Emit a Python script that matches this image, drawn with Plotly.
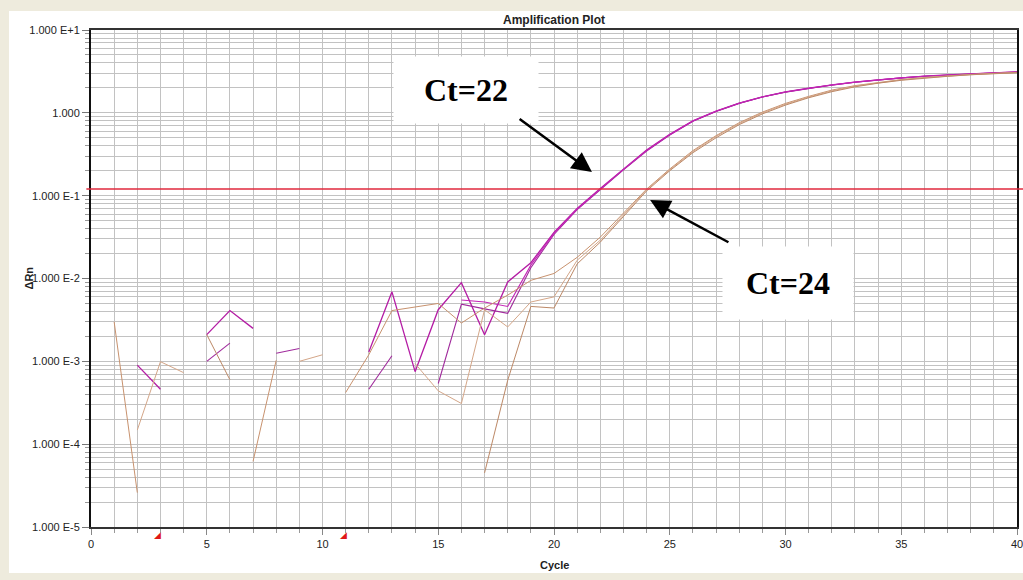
import plotly.graph_objects as go

cycles = list(range(1, 41))
N = None

# Magenta wells (Ct = 22)
mag_a = [N, 9.0e-4, 4.6e-4, N, 2.1e-3, 4.1e-3, 2.5e-3, N, N, N,
         N, 1.3e-3, 6.9e-3, 7.5e-4, 4.2e-3, 8.9e-3, 2.1e-3, 9.1e-3, 0.0155, 0.036,
         0.070, 0.122, 0.21, 0.355, 0.55, 0.80, 1.05, 1.31, 1.56, 1.79,
         1.99, 2.18, 2.35, 2.50, 2.65, 2.77, 2.87, 2.96, 3.04, 3.11]
mag_b = [N, N, N, N, 1.0e-3, 1.66e-3, N, 1.25e-3, 1.43e-3, N,
         N, 4.6e-4, 1.17e-3, N, 5.4e-4, 4.9e-3, 4.3e-3, 3.8e-3, 0.0135, 0.034,
         0.068, 0.118, 0.205, 0.345, 0.54, 0.79, 1.04, 1.30, 1.55, 1.78,
         1.98, 2.17, 2.34, 2.49, 2.64, 2.76, 2.86, 2.95, 3.03, 3.10]
mag_c = [N, N, N, N, N, N, N, N, N, N,
         N, N, N, N, N, 5.5e-3, 5.2e-3, 4.6e-3, 0.0145, 0.035,
         0.069, 0.120, 0.208, 0.35, 0.545, 0.795, 1.045, 1.305, 1.555, 1.785,
         1.985, 2.175, 2.345, 2.495, 2.645, 2.765, 2.865, 2.955, 3.035, 3.105]

# Tan wells (Ct = 24)
tan_a = [3.0e-3, 2.6e-5, N, N, N, N, 6.2e-5, 1.03e-3, N, N,
         4.2e-4, 1.2e-3, 4.1e-3, 4.5e-3, 5.0e-3, 2.9e-3, 4.4e-3, 6.3e-3, 9.5e-3, 0.0115,
         0.018, 0.0316, 0.062, 0.12, 0.21, 0.35, 0.53, 0.76, 1.02, 1.30,
         1.58, 1.88, 2.13, 2.34, 2.52, 2.67, 2.80, 2.91, 3.00, 3.07]
tan_b = [N, 1.48e-4, 9.9e-4, 7.3e-4, N, N, N, N, 1.0e-3, 1.2e-3,
         N, N, N, 9.4e-4, 4.4e-4, 3.1e-4, 4.2e-3, 2.6e-3, 5.2e-3, 6.0e-3,
         0.0166, 0.029, 0.059, 0.118, 0.205, 0.34, 0.52, 0.74, 1.00, 1.27,
         1.55, 1.84, 2.10, 2.31, 2.50, 2.65, 2.78, 2.89, 2.98, 3.06]
tan_c = [N, N, N, N, 2.1e-3, 6.0e-4, N, N, N, N,
         N, N, N, N, N, N, 4.5e-5, 5.9e-4, 4.6e-3, 4.4e-3,
         0.015, 0.0275, 0.056, 0.114, 0.20, 0.33, 0.50, 0.72, 0.97, 1.24,
         1.52, 1.80, 2.06, 2.28, 2.47, 2.63, 2.76, 2.88, 2.97, 3.05]

threshold = 0.12
baseline_cycles = [3, 11]

y_tickvals = [10, 1, 0.1, 0.01, 0.001, 1e-4, 1e-5]
y_ticktext = ["1.000 E+1", "1.000", "1.000 E-1", "1.000 E-2", "1.000 E-3", "1.000 E-4", "1.000 E-5"]
x_tickvals = [0, 5, 10, 15, 20, 25, 30, 35, 40]

series = [
    (mag_a, "#B41CA4", 1.3),
    (mag_b, "#A02A9C", 1.1),
    (mag_c, "#C424B6", 1.1),
    (tan_a, "#C8926E", 1.0),
    (tan_b, "#D4A688", 1.0),
    (tan_c, "#BC8866", 1.0),
]

fig = go.Figure()
for vals, col, w in series:
    fig.add_trace(go.Scatter(x=cycles, y=vals, mode="lines",
                             line=dict(color=col, width=w),
                             connectgaps=False, showlegend=False, hoverinfo="skip"))

grid = "#C2C2C2"
tickfont = dict(family="Liberation Sans, Arial, sans-serif", size=11, color="#222222")

fig.update_layout(
    width=1023, height=580,
    margin=dict(l=91, r=6, t=30, b=53),
    paper_bgcolor="#EEEBDD",
    plot_bgcolor="white",
    showlegend=False,
    title=dict(text="<b>Amplification Plot</b>", x=0.5, xref="paper",
               y=1 - 20 / 580, yref="container", yanchor="middle",
               font=dict(family="Liberation Sans, Arial, sans-serif", size=12, color="#222222")),
    xaxis=dict(range=[0, 40], tickmode="array", tickvals=x_tickvals, automargin=False,
               ticklabeloverflow="allow",
               showgrid=True, gridcolor=grid, gridwidth=1,
               ticks="outside", ticklen=6, tickcolor="#888888",
               showline=True, linecolor="#333333", linewidth=2, mirror=True,
               zeroline=False, tickfont=tickfont,
               minor=dict(dtick=1, showgrid=True, gridcolor=grid, gridwidth=1,
                          ticks="outside", ticklen=4, tickcolor="#999999")),
    yaxis=dict(type="log", range=[-5, 1], tickmode="array", automargin=False,
               tickvals=y_tickvals, ticktext=y_ticktext,
               showgrid=True, gridcolor=grid, gridwidth=1,
               ticks="outside", ticklen=7, tickcolor="#777777",
               showline=True, linecolor="#111111", linewidth=2, mirror=True,
               zeroline=False, tickfont=tickfont,
               minor=dict(dtick="D1", showgrid=True, gridcolor=grid, gridwidth=1,
                          ticks="outside", ticklen=4, tickcolor="#999999")),
    shapes=[
        dict(type="rect", xref="paper", yref="paper",
             x0=(9 - 91) / 926, x1=(1023 - 91) / 926 + 0.01,
             y0=(527 - 573) / 497, y1=(527 - 11) / 497,
             fillcolor="white", line=dict(width=0), layer="below"),
        dict(type="line", xref="paper", yref="y", x0=-0.005, x1=1.01,
             y0=threshold, y1=threshold, line=dict(color="#E0283C", width=1.5)),
    ],
)

# baseline start/end markers below the x axis
for bc in baseline_cycles:
    fig.add_annotation(x=bc, y=0, xref="x", yref="paper", text="◢", showarrow=False,
                       xanchor="right", yanchor="top", yshift=-1, xshift=3,
                       font=dict(family="DejaVu Sans", size=9, color="#E01818"))

ann_font = dict(family="Liberation Serif, Times New Roman, serif", size=32, color="black")
fig.add_annotation(x=16.2, y=0.28, xref="x", yref="y", text="<b>Ct=22</b>",
                   showarrow=False, bgcolor="white", width=142, height=64, font=ann_font)
fig.add_annotation(x=30.1, y=-2.05, xref="x", yref="y", text="<b>Ct=24</b>",
                   showarrow=False, bgcolor="white", width=128, height=70, font=ann_font)
fig.add_annotation(x=21.64, y=-0.715, xref="x", yref="y", ax=18.45, ay=-0.06,
                   axref="x", ayref="y", text="", showarrow=True,
                   arrowhead=2, arrowsize=1.6, arrowwidth=2.5, arrowcolor="black")
fig.add_annotation(x=24.15, y=-1.053, xref="x", yref="y", ax=27.6, ay=-1.572,
                   axref="x", ayref="y", text="", showarrow=True,
                   arrowhead=2, arrowsize=1.6, arrowwidth=2.5, arrowcolor="black")

lab_font = dict(family="Liberation Sans, Arial, sans-serif", size=11, color="#222222")
fig.add_annotation(x=0.5, y=(527 - 565) / 497, xref="paper", yref="paper",
                   text="<b>Cycle</b>", showarrow=False, font=lab_font, yanchor="middle")
fig.add_annotation(x=(28 - 91) / 926, y=0.5, xref="paper", yref="paper",
                   text="<b>ΔRn</b>", showarrow=False, font=lab_font, textangle=-90,
                   xanchor="center", yanchor="middle")

fig.write_html("out.html", config={"displayModeBar": False},
               post_script="document.body.style.margin='0px';")
